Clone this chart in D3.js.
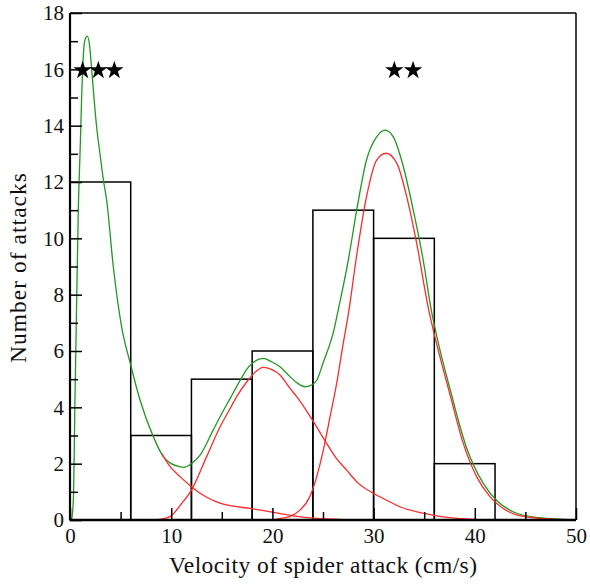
<!DOCTYPE html>
<html>
<head>
<meta charset="utf-8">
<script src="https://cdn.jsdelivr.net/npm/d3@7"></script>
<style>
  body { margin: 0; background: #fff; }
  svg text { font-family: "Liberation Serif", "DejaVu Serif", serif; fill: #111; }
</style>
</head>
<body>
<div id="chart"></div>
<script>
// histogram bins (cm/s) and counts
const binEdges = [0, 6, 12, 18, 24, 30, 36, 42];
const binCounts = [12, 3, 5, 6, 11, 10, 2];

// fitted mixture (green) and its components (red)
const sumX = [0.16, 0.33, 0.49, 0.66, 0.82, 0.99, 1.25, 1.45, 1.71, 1.95, 2.14, 2.63, 3.0, 3.3, 3.62, 4.28, 5.1, 5.93, 6.92, 8.23, 9.22, 10.0, 10.87, 11.2, 12.0, 12.85, 14.16, 15.0, 15.8, 16.8, 17.46, 18.2, 19.1, 19.9, 20.75, 21.74, 22.5, 23.2, 23.8, 24.4, 25.03, 25.7, 26.0, 26.5, 27.5, 28.33, 29.3, 30.3, 31.13, 31.95, 32.94, 33.92, 34.9, 35.7, 36.3, 37.55, 39.2, 40.84, 42.16, 44.14, 46.4, 50];
const sumY = [0, 0.71, 4.26, 7.8, 11.0, 13.0, 16.0, 17.0, 17.18, 16.8, 16.0, 13.96, 12.9, 12.07, 11.36, 8.99, 6.86, 5.6, 4.26, 2.96, 2.25, 2.0, 1.89, 1.87, 2.0, 2.3, 3.2, 3.78, 4.3, 4.95, 5.35, 5.62, 5.74, 5.62, 5.44, 5.09, 4.85, 4.73, 4.78, 4.97, 5.6, 6.27, 6.63, 7.45, 9.23, 11.0, 12.78, 13.6, 13.84, 13.6, 12.54, 11.0, 9.23, 7.45, 6.43, 4.65, 2.55, 1.3, 0.69, 0.24, 0.08, 0];

const comp1X = [9.06, 9.5, 10.0, 10.87, 12.0, 12.85, 14.0, 14.82, 16.0, 17.8, 19.0, 20.1, 21.7, 23.0, 24.4, 26.0, 27.67];
const comp1Y = [2.37, 2.1, 1.85, 1.54, 1.18, 0.95, 0.72, 0.6, 0.5, 0.41, 0.34, 0.27, 0.17, 0.1, 0.06, 0.03, 0];

const comp2X = [8.07, 9.0, 9.88, 11.04, 12.02, 13.5, 14.82, 15.81, 16.5, 17.46, 18.3, 19.1, 19.9, 20.75, 21.74, 22.4, 24.04, 25.36, 26.3, 27.34, 28.5, 29.97, 31.3, 32.6, 34.9, 36.5, 38.2, 40.0, 42.2];
const comp2Y = [0, 0.03, 0.12, 0.59, 1.07, 2.25, 3.3, 3.95, 4.4, 4.9, 5.25, 5.42, 5.35, 5.15, 4.67, 4.38, 3.5, 2.72, 2.2, 1.77, 1.3, 0.95, 0.7, 0.47, 0.24, 0.13, 0.06, 0.02, 0];

const comp3X = [19.76, 20.7, 21.74, 22.73, 23.7, 24.38, 25.03, 25.7, 26.35, 27.0, 27.5, 28.33, 29.3, 30.3, 31.23, 32.3, 33.27, 34.26, 35.45, 35.9, 37.55, 38.86, 40.18, 41.5, 42.16, 44.14, 46.4, 49.9];
const comp3Y = [0, 0.05, 0.13, 0.35, 0.83, 1.54, 2.48, 3.67, 4.85, 6.27, 7.3, 9.4, 11.48, 12.78, 13.02, 12.66, 11.48, 9.82, 7.45, 6.74, 4.45, 2.72, 1.54, 0.83, 0.59, 0.18, 0.06, 0];

// significance stars
const starX = [1.25, 2.8, 4.38, 32.05, 33.9];
const starY = [16, 16, 16, 16, 16];

const yMajor = [0, 2, 4, 6, 8, 10, 12, 14, 16, 18];
const yMinor = [1, 3, 5, 7, 9, 11, 13, 15, 17];
const xMajor = [0, 10, 20, 30, 40, 50];
const xMinor = [5, 15, 25, 35, 45];

const W = 590, H = 585;
const margin = { top: 13, right: 14, bottom: 65, left: 70 };
const width = W - margin.left - margin.right;
const height = H - margin.top - margin.bottom;

const svg = d3.select("#chart").append("svg")
    .attr("width", W)
    .attr("height", H);

const g = svg.append("g")
    .attr("transform", `translate(${margin.left},${margin.top})`);

const x = d3.scaleLinear().domain([0, 50]).range([0, width]);
const y = d3.scaleLinear().domain([0, 18]).range([height, 0]);

// histogram bars
g.selectAll(".bar")
    .data(binCounts)
    .enter()
    .append("rect")
        .attr("class", "bar")
        .attr("x", (d, i) => x(binEdges[i]))
        .attr("y", d => y(d))
        .attr("width", (d, i) => x(binEdges[i + 1]) - x(binEdges[i]))
        .attr("height", d => height - y(d))
        .attr("fill", "none")
        .attr("stroke", "#000")
        .attr("stroke-width", 1.5);

// curves
const line = d3.line()
    .x(d => x(d[0]))
    .y(d => y(d[1]))
    .curve(d3.curveMonotoneX);

const curves = [
    { xs: sumX, ys: sumY, color: "#1f9a1f" },
    { xs: comp1X, ys: comp1Y, color: "#ff2a2a" },
    { xs: comp2X, ys: comp2Y, color: "#ff2a2a" },
    { xs: comp3X, ys: comp3Y, color: "#ff2a2a" }
];

curves.forEach(c => {
    g.append("path")
        .datum(c.xs.map((v, i) => [v, c.ys[i]]))
        .attr("d", line)
        .attr("fill", "none")
        .attr("stroke", c.color)
        .attr("stroke-width", 1.3);
});

// frame (top + right)
g.append("line").attr("x1", 0).attr("x2", width).attr("y1", 0).attr("y2", 0)
    .attr("stroke", "#000").attr("stroke-width", 1.5);
g.append("line").attr("x1", width).attr("x2", width).attr("y1", 0).attr("y2", height)
    .attr("stroke", "#000").attr("stroke-width", 1.5);

// y axis, ticks pointing inward
g.append("g")
    .call(d3.axisLeft(y).tickValues(yMinor).tickSize(-8).tickFormat(""))
    .call(a => a.select(".domain").remove())
    .call(a => a.selectAll("line").attr("stroke-width", 1.5));

g.append("g")
    .call(d3.axisLeft(y).tickValues(yMajor).tickSize(-12).tickPadding(6))
    .call(a => a.select(".domain").remove())
    .call(a => a.selectAll("line").attr("stroke-width", 1.5))
    .call(a => a.selectAll("text")
        .style("font-size", "21px")
        .attr("dy", "0.33em"));

// x axis, ticks pointing inward
g.append("g")
    .attr("transform", `translate(0,${height})`)
    .call(d3.axisBottom(x).tickValues(xMinor).tickSize(-8).tickFormat(""))
    .call(a => a.select(".domain").remove())
    .call(a => a.selectAll("line").attr("stroke-width", 1.5));

g.append("g")
    .attr("transform", `translate(0,${height})`)
    .call(d3.axisBottom(x).tickValues(xMajor).tickSize(-12).tickPadding(8))
    .call(a => a.select(".domain").remove())
    .call(a => a.selectAll("line").attr("stroke-width", 1.5))
    .call(a => a.selectAll("text")
        .style("font-size", "21px")
        .attr("dy", "0.71em"));

// heavier left and bottom axis lines
g.append("line").attr("x1", 0).attr("x2", 0).attr("y1", 0).attr("y2", height)
    .attr("stroke", "#000").attr("stroke-width", 2.2);
g.append("line").attr("x1", 0).attr("x2", width).attr("y1", height).attr("y2", height)
    .attr("stroke", "#000").attr("stroke-width", 2.5);

// stars
g.selectAll(".star")
    .data(starX)
    .enter()
    .append("path")
        .attr("class", "star")
        .attr("d", d3.symbol(d3.symbolStar, 105))
        .attr("transform", (d, i) => `translate(${x(d)},${y(starY[i]) + 1})`)
        .attr("fill", "#000");

// axis titles
svg.append("text")
    .attr("x", margin.left + width / 2)
    .attr("y", 573)
    .attr("text-anchor", "middle")
    .attr("textLength", 308)
    .attr("lengthAdjust", "spacing")
    .style("font-size", "23.5px")
    .text("Velocity of spider attack (cm/s)");

svg.append("text")
    .attr("transform", `translate(26,268) rotate(-90)`)
    .attr("text-anchor", "middle")
    .attr("textLength", 190)
    .attr("lengthAdjust", "spacing")
    .style("font-size", "23.5px")
    .text("Number of attacks");
</script>
</body>
</html>
